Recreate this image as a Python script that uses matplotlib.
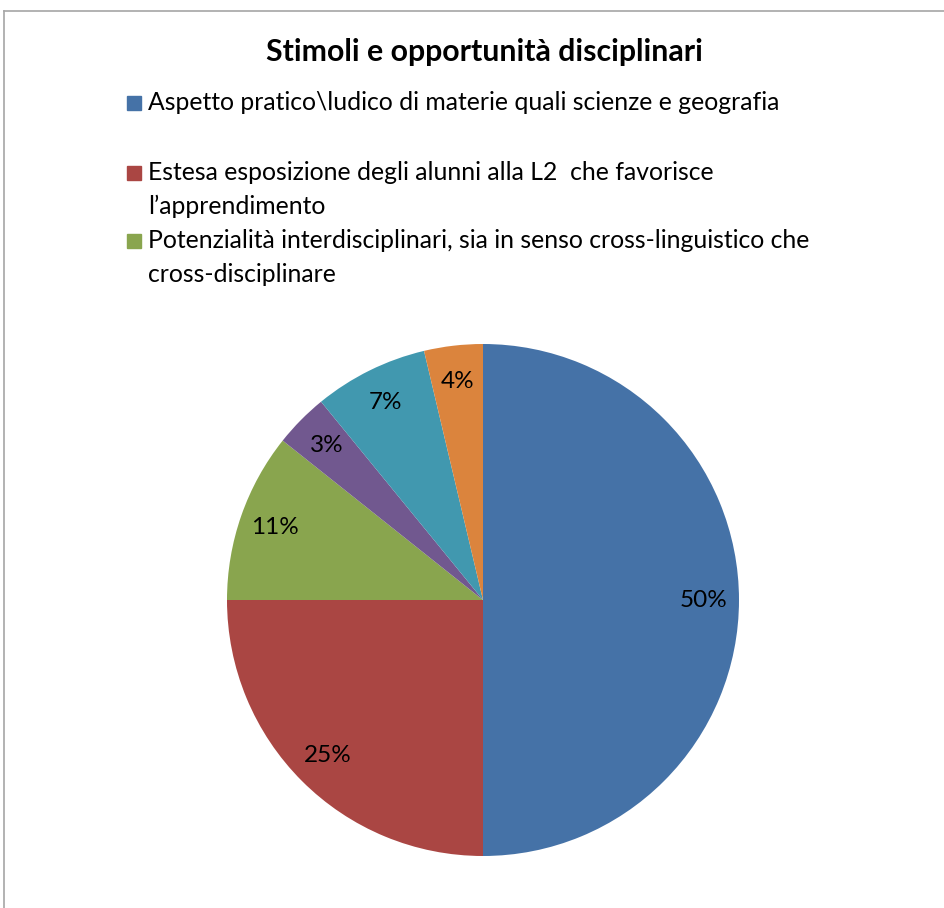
import matplotlib
matplotlib.use("Agg")
import matplotlib.pyplot as plt
from matplotlib.patches import Rectangle
from matplotlib.lines import Line2D

plt.rcParams['font.family'] = ['Lato', 'DejaVu Sans']

title = "Stimoli e opportunità disciplinari"
categories = [
    "Aspetto pratico\\ludico di materie quali scienze e geografia",
    "Estesa esposizione degli alunni alla L2  che favorisce\nl\u2019apprendimento",
    "Potenzialità interdisciplinari, sia in senso cross-linguistico che\ncross-disciplinare",
    "Altro 1",
    "Altro 2",
    "Altro 3",
]
values = [50, 25, 10.7, 3.4, 7.2, 3.7]
colors = ["#4572A7", "#AA4643", "#89A54E", "#71588F", "#4198AF", "#DB843D"]
legend_shown = 3

W, H = 944, 908
fig = plt.figure(figsize=(W / 100, H / 100), dpi=100)

# border
fig.add_artist(Line2D([4 / W, 1], [1 - 11 / H, 1 - 11 / H], color="#A6A6A6", lw=1.2))
fig.add_artist(Line2D([4 / W, 4 / W], [0, 1 - 11 / H], color="#A6A6A6", lw=1.2))

fig.text(484 / W, 1 - 61 / H, title, ha="center", va="baseline",
         fontsize=21.8, fontweight="bold")

# legend (manual, only first entries visible)
baselines = [110, 180, 248]
for i in range(legend_shown):
    b = baselines[i]
    fig.add_artist(Rectangle((127 / W, 1 - b / H), 14 / W, 14 / H,
                             color=colors[i], transform=fig.transFigure))
    for k, line in enumerate(categories[i].split("\n")):
        fig.text(148 / W, 1 - (b + 34 * k) / H, line, ha="left", va="baseline",
                 fontsize=17.8)

ax = fig.add_axes([227 / W, (H - 856) / H, 512 / W, 512 / H])
wedges, texts, autotexts = ax.pie(values, colors=colors, startangle=90,
                                  counterclock=False, autopct="%.0f%%",
                                  pctdistance=0.86, radius=1,
                                  textprops=dict(fontsize=17.5, color="black"))
ax.set_xlim(-1, 1)
ax.set_ylim(-1, 1)
ax.set_aspect("equal")
ax.axis("off")

fig.savefig("out.png", dpi=100)
